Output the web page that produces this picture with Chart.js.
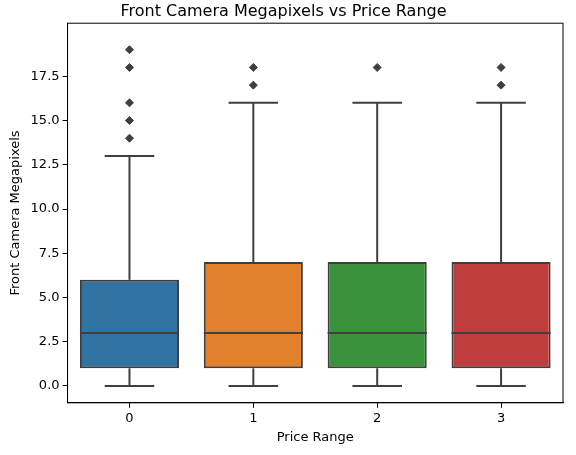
<!DOCTYPE html>
<html><head><script src="https://cdn.jsdelivr.net/npm/chart.js@4"></script>
<style>body{margin:0;background:#fff}#w{width:576px;height:455px}</style></head>
<body><div id="w"><canvas id="c"></canvas></div>
<script>
const categories=['0','1','2','3'];
const mins=[0,0,0,0];
const q1s=[1,1,1,1];
const medians=[3,3,3,3];
const q3s=[6,7,7,7];
const maxs=[13,16,16,16];
const outliers=[[14,15,16,18,19],[17,18],[18],[17,18]];
const colors=['#3274a1','#e1812c','#3a923a','#c03d3e'];
const yTicks=[0,2.5,5,7.5,10,12.5,15,17.5];
const edge='#3f3f3f';
const outPts=[];outliers.forEach((a,i)=>a.forEach(v=>outPts.push({x:categories[i],y:v})));
const boxPlugin={id:'box',afterDatasetsDraw(ch){
 const c=ch.ctx,x=ch.scales.x,y=ch.scales.y,meta=ch.getDatasetMeta(0);
 c.save();c.strokeStyle=edge;c.lineWidth=2;
 categories.forEach((k,i)=>{const b=meta.data[i];const cx=b.x,hw=b.width/2,ww=hw/2;
  const l=(x1,y1,x2,y2)=>{c.beginPath();c.moveTo(x1,y1);c.lineTo(x2,y2);c.stroke();};
  l(cx,y.getPixelForValue(q3s[i]),cx,y.getPixelForValue(maxs[i]));
  l(cx,y.getPixelForValue(q1s[i]),cx,y.getPixelForValue(mins[i]));
  l(cx-ww,y.getPixelForValue(maxs[i]),cx+ww,y.getPixelForValue(maxs[i]));
  l(cx-ww,y.getPixelForValue(mins[i]),cx+ww,y.getPixelForValue(mins[i]));
  l(cx-hw,y.getPixelForValue(medians[i]),cx+hw,y.getPixelForValue(medians[i]));
 });
 const a=ch.chartArea;c.strokeStyle='#000';c.lineWidth=1;c.strokeRect(a.left,a.top,a.right-a.left,a.bottom-a.top);
 c.restore();}};
new Chart(document.getElementById('c'),{
 data:{labels:categories,datasets:[
  {type:'bar',data:categories.map((k,i)=>[q1s[i],q3s[i]]),backgroundColor:colors,borderColor:edge,borderWidth:2,borderSkipped:false,barPercentage:0.8,categoryPercentage:1},
  {type:'line',data:outPts,showLine:false,pointStyle:'rectRot',pointRadius:4,pointBackgroundColor:edge,pointBorderColor:edge}
 ]},
 options:{responsive:true,maintainAspectRatio:false,animation:false,
  layout:{padding:{right:13,top:0,bottom:6,left:4}},
  plugins:{legend:{display:false},tooltip:{enabled:false},
   title:{display:true,text:'Front Camera Megapixels vs Price Range',color:'#000',font:{family:'DejaVu Sans',size:16,weight:'normal'},padding:{top:2,bottom:2}}},
  scales:{
   x:{offset:true,grid:{display:true,offset:false,drawOnChartArea:false,tickLength:5,color:'#000'},border:{color:'#000'},ticks:{color:'#000',font:{family:'DejaVu Sans',size:13}},
      title:{display:true,text:'Price Range',color:'#000',font:{family:'DejaVu Sans',size:13},padding:{top:0}}},
   y:{min:-0.95,max:20.5,afterBuildTicks(s){s.ticks=yTicks.map(v=>({value:v}));},
      grid:{display:true,drawOnChartArea:false,tickLength:5,color:'#000'},border:{color:'#000'},
      ticks:{color:'#000',font:{family:'DejaVu Sans',size:13},callback:v=>v.toFixed(1)},
      title:{display:true,text:'Front Camera Megapixels',color:'#000',font:{family:'DejaVu Sans',size:13}}}
  }},
 plugins:[boxPlugin]});
</script></body></html>
